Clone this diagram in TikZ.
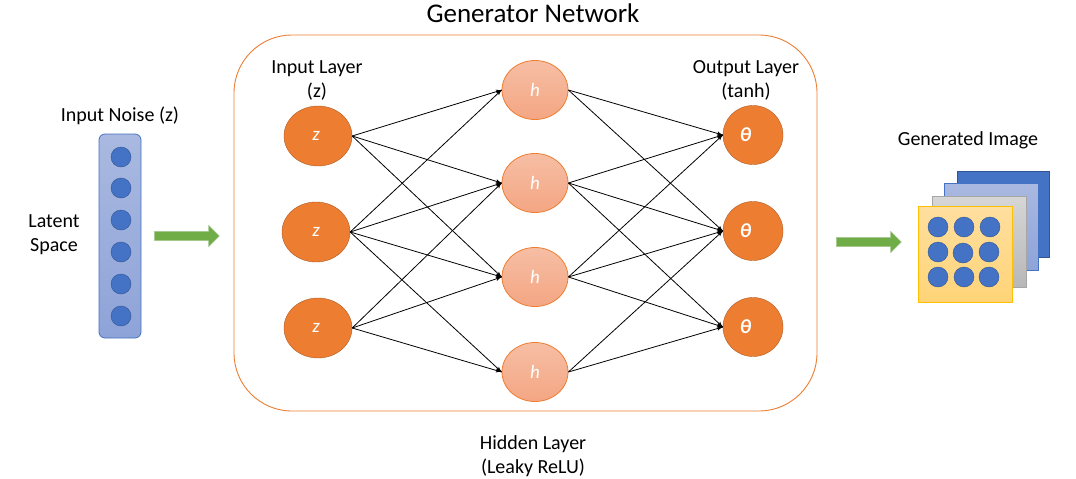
\documentclass[tikz,border=0pt]{standalone}
\usepackage{fontspec}
\setmainfont{Carlito}
\usetikzlibrary{decorations.markings}
\usetikzlibrary{arrows}
\usetikzlibrary{shapes.geometric}
\usetikzlibrary{shapes.arrows}
\definecolor{orangefill}{HTML}{ED7D31}
\definecolor{orangeline}{HTML}{AE5A21}
\definecolor{hilltop}{HTML}{F6BEA4}
\definecolor{hillbot}{HTML}{F4A683}
\definecolor{bluefill}{HTML}{4472C4}
\definecolor{blueline}{HTML}{2F5597}
\definecolor{paletop}{HTML}{A9B9E0}
\definecolor{palebot}{HTML}{8EA3D8}
\definecolor{greenfill}{HTML}{70AD47}
\definecolor{greenline}{HTML}{A9C99A}
\definecolor{goldline}{HTML}{FFC000}
\definecolor{goldtop}{HTML}{FFDF9F}
\definecolor{goldbot}{HTML}{FFD478}
\tikzset{->/.style = {line width = 0.8, decoration={markings,
                                  mark=at position 1 with {\arrow[scale=1.1]{latex'}}},
                      postaction={decorate}}}
\tikzset{znode/.style = {ellipse, draw = orangeline, fill = orangefill, text = white,
                         minimum width = 68, minimum height = 60, inner sep = 0, font = \fontsize{19}{22}\selectfont\itshape}}
\tikzset{hnode/.style = {ellipse, draw = orangefill, line width = 0.8, top color = hilltop, bottom color = hillbot, text = white,
                         minimum width = 66, minimum height = 59, inner sep = 0, font = \fontsize{19}{22}\selectfont\itshape}}
\tikzset{tnode/.style = {ellipse, draw = orangeline, fill = orangefill, text = white,
                         minimum width = 60, minimum height = 59, inner sep = 0, font = \fontsize{20}{22}\selectfont\itshape\bfseries}}
\tikzset{dot/.style = {circle, draw = blueline, fill = bluefill, inner sep = 0, minimum size = 20}}
\tikzset{sheet/.style = {rectangle, inner sep = 0, minimum width = 94, line width = 1}}
\tikzset{bigarrow/.style = {single arrow, draw = greenline, fill = greenfill, minimum height = 65, minimum width = 21,
                            inner xsep = 0, inner ysep = 4.5, single arrow head extend = 6, outer sep = 0}}
\tikzset{lbl/.style = {align = center, font = \fontsize{20}{24}\selectfont, inner sep = 0}}
\newcommand{\thetatext}{θ\hspace*{15pt}}

\begin{document}
\begin{tikzpicture}[x = 1pt, y = -1pt]
      \useasboundingbox (0, 0) rectangle (1076, 479);

      \node [lbl, font = \fontsize{27}{30}\selectfont] (title) at (533, 13) {Generator Network};
      \node [rectangle, draw = orangefill, line width = 0.9, rounded corners = 58, inner sep = 0, minimum width = 583, minimum height = 376] (net) at (525.5, 223) {};

      \node [lbl] (noiselbl) at (120, 116) {Input Noise (z)};
      \node [lbl] (latentlbl) at (54, 235) {Latent\\Space};
      \node [rectangle, draw = bluefill, line width = 0.8, rounded corners = 6, top color = paletop, bottom color = palebot,
             inner sep = 0, minimum width = 42, minimum height = 204] (bar) at (120, 236) {};
      \node [dot] (n1) at (121, 157) {};
      \node [dot] (n2) at (121, 188) {};
      \node [dot] (n3) at (121, 220) {};
      \node [dot] (n4) at (121, 252) {};
      \node [dot] (n5) at (121, 284) {};
      \node [dot] (n6) at (121, 316) {};

      \node [bigarrow] (arrowin) at (184.5, 236) {};
      \node [bigarrow] (arrowout) at (866.5, 242) {};

      \node [lbl] (inlbl) at (317, 80) {Input Layer\\(z)};
      \node [lbl] (outlbl) at (746, 80) {Output Layer\\(tanh)};
      \node [lbl] (hidlbl) at (533, 456) {Hidden Layer\\(Leaky ReLU)};
      \node [lbl] (imglbl) at (968, 140) {Generated Image};

      \node [znode] (z1) at (318, 136) {z\hspace*{4pt}};
      \node [znode] (z2) at (316, 232) {z};
      \node [znode] (z3) at (318, 328) {z\hspace*{4pt}};

      \node [hnode] (h1) at (535, 90) {h};
      \node [hnode] (h2) at (535, 183) {h};
      \node [hnode] (h3) at (535, 277) {h};
      \node [hnode] (h4) at (535, 372) {h};

      \node [tnode] (t1) at (753, 135) {\thetatext};
      \node [tnode] (t2) at (753, 231) {\thetatext};
      \node [tnode] (t3) at (753, 327) {\thetatext};

      \draw [->] (z1.east) -- (h1.west);
      \draw [->] (z1.east) -- (h2.west);
      \draw [->] (z1.east) -- (h3.west);
      \draw [->] (z2.east) -- (h1.west);
      \draw [->] (z2.east) -- (h2.west);
      \draw [->] (z2.east) -- (h3.west);
      \draw [->] (z2.east) -- (h4.west);
      \draw [->] (z3.east) -- (h2.west);
      \draw [->] (z3.east) -- (h3.west);
      \draw [->] (z3.east) -- (h4.west);

      \draw [->] (h1.east) -- (t1.west);
      \draw [->] (h1.east) -- (t2.west);
      \draw [->] (h2.east) -- (t1.west);
      \draw [->] (h2.east) -- (t2.west);
      \draw [->] (h2.east) -- (t3.west);
      \draw [->] (h3.east) -- (t1.west);
      \draw [->] (h3.east) -- (t2.west);
      \draw [->] (h3.east) -- (t3.west);
      \draw [->] (h4.east) -- (t2.west);
      \draw [->] (h4.east) -- (t3.west);

      \node [sheet, draw = blueline, fill = bluefill, minimum width = 92, minimum height = 86] (s4) at (1003, 214) {};
      \node [sheet, draw = bluefill, top color = paletop, bottom color = palebot, minimum height = 87] (s3) at (991, 226.5) {};
      \node [sheet, draw = black!35, top color = black!16, bottom color = black!28, minimum height = 91] (s2) at (979, 241.5) {};
      \node [sheet, draw = goldline, top color = goldtop, bottom color = goldbot, minimum height = 96] (s1) at (965, 254) {};

      \node [dot] (d1) at (938, 227) {};
      \node [dot] (d2) at (964, 227) {};
      \node [dot] (d3) at (990, 227) {};
      \node [dot] (d4) at (938, 252) {};
      \node [dot] (d5) at (963, 253) {};
      \node [dot] (d6) at (989, 252) {};
      \node [dot] (d7) at (938, 277) {};
      \node [dot] (d8) at (964, 277) {};
      \node [dot] (d9) at (989, 277) {};
    \end{tikzpicture}
\end{document}
